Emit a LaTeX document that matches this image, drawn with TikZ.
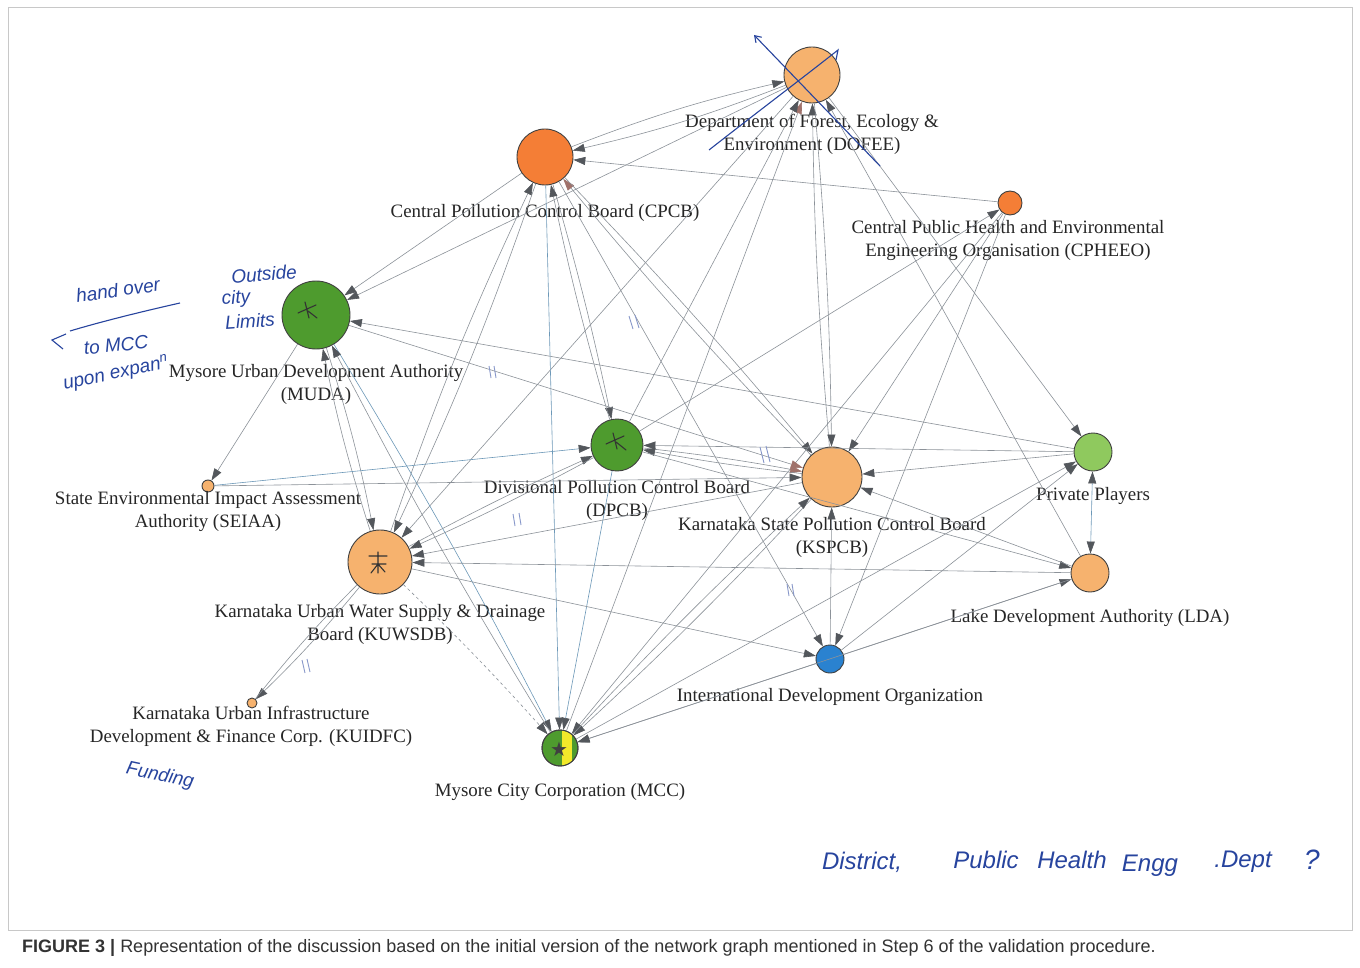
\documentclass[tikz,border=0pt]{standalone}
\usepackage{fontspec}
\setmainfont{Liberation Serif}
\newfontfamily\capfont{Liberation Sans}
\newfontfamily\handfont{Liberation Sans}
\newfontfamily\symfont{DejaVu Sans}
\usetikzlibrary{arrows.meta}
\definecolor{lorange}{HTML}{F6B26E}
\definecolor{dorange}{HTML}{F47E36}
\definecolor{dgreen}{HTML}{4E9B2E}
\definecolor{lgreen}{HTML}{8FC95E}
\definecolor{idblue}{HTML}{2A82D0}
\definecolor{myyellow}{HTML}{F2E92A}
\definecolor{edgegray}{HTML}{8C9299}
\definecolor{edgeblue}{HTML}{6C98B8}
\definecolor{tipgray}{HTML}{53575C}
\definecolor{tipred}{HTML}{A0726B}
\definecolor{ink}{HTML}{27449E}
\definecolor{framegray}{HTML}{C8C8C8}
\begin{document}
\begin{tikzpicture}[x=1pt,y=-1pt,
 agent/.style={circle,draw=black!75,line width=0.9pt,inner sep=0pt},
 lbl/.style={font=\fontsize{18.9}{23}\selectfont,align=center,text=black!85,inner sep=0pt},
 ed/.style={draw=edgegray,line width=0.6pt,-{Triangle[length=12pt,width=8pt,color=tipgray]}},
 edb/.style={ed,draw=edgeblue},
 edr/.style={draw=edgegray,line width=0.6pt,-{Triangle[length=12pt,width=8pt,color=tipred]}},
 edboth/.style={draw=edgeblue,line width=0.6pt,{Triangle[length=12pt,width=8pt,color=tipgray]}-{Triangle[length=12pt,width=8pt,color=tipgray]}},
 hand/.style={font=\handfont\itshape\fontsize{19}{21}\selectfont,text=ink,inner sep=0pt},
 bighand/.style={font=\handfont\itshape\fontsize{24}{26}\selectfont,text=ink,inner sep=0pt},
 hmark/.style={draw=ink!55,line width=0.9pt},
 pencil/.style={draw=black!80,line width=1.1pt,line cap=round}
]
\fill[white] (0,0) rectangle (1360,968);
\useasboundingbox (0,0) rectangle (1360,968);
\draw[framegray,line width=1pt] (8,8) rectangle (1352,930);

% nodes
\node[agent,fill=lorange,minimum size=56pt] (DOFEE) at (812,75) {};
\node[agent,fill=dorange,minimum size=56pt] (CPCB) at (545,157) {};
\node[agent,fill=dorange,minimum size=24pt] (CPHEEO) at (1010,203) {};
\node[agent,fill=dgreen,minimum size=68pt] (MUDA) at (316,315) {};
\node[agent,fill=lorange,minimum size=12pt] (SEIAA) at (208,486) {};
\node[agent,fill=dgreen,minimum size=52pt] (DPCB) at (617,445) {};
\node[agent,fill=lorange,minimum size=60pt] (KSPCB) at (832,477) {};
\node[agent,fill=lgreen,minimum size=38pt] (PP) at (1093,452) {};
\node[agent,fill=lorange,minimum size=38pt] (LDA) at (1090,573) {};
\node[agent,fill=lorange,minimum size=64pt] (KUWSDB) at (380,562) {};
\node[agent,fill=idblue,minimum size=28pt] (IDO) at (830,659) {};
\node[agent,fill=lorange,minimum size=10pt] (KUIDFC) at (252,703) {};
\node[agent,fill=dgreen,minimum size=36pt] (MCC) at (560,748) {};
\begin{scope}
\clip (560,748) circle (17.5pt);
\fill[myyellow] (562,725) rectangle (572,775);
\end{scope}
\draw[black!75,line width=0.9pt] (560,748) circle (18pt);
\node[font=\symfont\fontsize{20}{20}\selectfont,text=black!75,inner sep=0pt] (star) at (559,749) {★};

% pencil marks
\draw[pencil] (298,313) -- (316,305) (305,302) -- (309,318) (308,311) -- (317,318);
\draw[pencil] (606,444) -- (624,436) (613,433) -- (617,449) (616,442) -- (626,450);
\draw[pencil] (369,556) -- (387,556) (372,564) -- (386,564) (378,552) -- (378,573) (378,564) -- (371,573) (378,564) -- (385,572);

% labels
\node[lbl] (lDOFEE) at (812,134.5) {Department of Forest, Ecology \&\\Environment (DOFEE)};
\node[lbl] (lCPCB) at (545,213) {Central Pollution Control Board (CPCB)};
\node[lbl] (lCPHEEO) at (1008,240) {Central Public Health and Environmental\\Engineering Organisation (CPHEEO)};
\node[lbl] (lMUDA) at (316,384) {Mysore Urban Development Authority\\(MUDA)};
\node[lbl] (lSEIAA) at (208,511) {State Environmental Impact Assessment\\Authority (SEIAA)};
\node[lbl] (lDPCB) at (617,500) {Divisional Pollution Control Board\\(DPCB)};
\node[lbl] (lKSPCB) at (832,537) {Karnataka State Pollution Control Board\\(KSPCB)};
\node[lbl] (lPP) at (1093,496) {Private Players};
\node[lbl] (lLDA) at (1090,618) {Lake Development Authority (LDA)};
\node[lbl] (lKUWSDB) at (380,624) {Karnataka Urban Water Supply \& Drainage\\Board (KUWSDB)};
\node[lbl] (lIDO) at (830,697) {International Development Organization};
\node[lbl] (lKUIDFC) at (251,726) {Karnataka Urban Infrastructure\\Development \& Finance Corp. (KUIDFC)};
\node[lbl] (lMCC) at (560,792) {Mysore City Corporation (MCC)};

% edges
\draw[ed] (CPCB) to[bend left=4] (DOFEE);
\draw[ed] (DOFEE) to[bend left=4] (CPCB);
\draw[ed] (DOFEE) -- (MUDA);
\draw[edr] (MCC) -- (DOFEE);
\draw[ed] (DOFEE) -- (KUWSDB);
\draw[ed] (DPCB) -- (DOFEE);
\draw[ed] (KSPCB) to[bend left=2] (DOFEE);
\draw[ed] (DOFEE) to[bend left=2] (KSPCB);
\draw[ed] (LDA) -- (DOFEE);
\draw[ed] (DOFEE) -- (PP);
\draw[ed] (CPHEEO) -- (CPCB);
\draw[ed] (CPCB) -- (MUDA);
\draw[ed] (CPCB) to[bend left=3] (KUWSDB);
\draw[ed] (KUWSDB) to[bend left=3] (CPCB);
\draw[ed] (CPCB) to[bend left=2] (DPCB);
\draw[ed] (DPCB) to[bend left=2] (CPCB);
\draw[edb] (CPCB) -- (MCC);
\draw[edr] (KSPCB) to[bend left=2] (CPCB);
\draw[ed] (CPCB) to[bend left=2] (KSPCB);
\draw[ed] (CPCB) -- (IDO);
\draw[ed] (CPHEEO) -- (KSPCB);
\draw[ed] (CPHEEO) -- (IDO);
\draw[ed] (DPCB) -- (CPHEEO);
\draw[ed] (CPHEEO) -- (MCC);
\draw[ed] (MUDA) -- (SEIAA);
\draw[ed] (MUDA) to[bend left=3] (KUWSDB);
\draw[ed] (KUWSDB) to[bend left=3] (MUDA);
\draw[edb] (MUDA) to[bend left=2] (MCC);
\draw[ed] (MCC) to[bend left=2] (MUDA);
\draw[ed] (PP) -- (MUDA);
\draw[edr] (MUDA) -- (KSPCB);
\draw[edb] (SEIAA) -- (DPCB);
\draw[ed] (SEIAA) -- (KSPCB);
\draw[edr] (DPCB) to[bend left=2] (KSPCB);
\draw[ed] (KSPCB) to[bend left=2] (DPCB);
\draw[ed] (PP) -- (DPCB);
\draw[ed] (KUWSDB) to[bend left=2] (DPCB);
\draw[ed] (DPCB) to[bend left=2] (KUWSDB);
\draw[edb] (DPCB) -- (MCC);
\draw[ed] (DPCB) -- (LDA);
\draw[ed] (KSPCB) -- (KUWSDB);
\draw[ed] (PP) -- (KSPCB);
\draw[ed] (LDA) -- (KSPCB);
\draw[ed] (IDO) -- (KSPCB);
\draw[ed] (KSPCB) to[bend left=2] (MCC);
\draw[ed] (MCC) to[bend left=2] (KSPCB);
\draw[edboth] (PP) -- (LDA);
\draw[ed] (IDO) -- (PP);
\draw[ed] (MCC) -- (PP);
\draw[ed] (LDA) -- (KUWSDB);
\draw[ed] (IDO) -- (LDA);
\draw[ed] (LDA) -- (MCC);
\draw[ed] (KUWSDB) to[bend left=3] (KUIDFC);
\draw[draw=edgegray,line width=0.6pt] (KUWSDB) to[bend right=3] (KUIDFC);
\draw[ed] (KUWSDB) -- (IDO);
\draw[ed,dashed] (KUWSDB) to[bend left=2] (MCC);
\draw[ed] (IDO) -- (MCC);

% handwritten marks on edges
\draw[hmark] (629,316) -- (633,329) (635,315) -- (639,328);
\draw[hmark] (489,366) -- (491,378) (494,366) -- (496,378);
\draw[hmark] (760,447) -- (764,463) (766,446) -- (770,462);
\draw[hmark] (513,514) -- (515,526) (519,513) -- (521,525);
\draw[hmark] (787,584) -- (789,596) (792,584) -- (794,596);
\draw[hmark] (302,660) -- (305,673) (307,659) -- (310,672);
% blue strokes near DOFEE
\draw[ink,line width=1.1pt,-{Straight Barb[length=6pt,width=8pt]}] (880,166) -- (754,35);
\draw[ink,line width=1.1pt] (709,150) .. controls (760,110) and (800,80) .. (838,50) -- (836,60);
% handwritten arrow
\draw[ink,line width=1.1pt] (180,303) .. controls (140,312) and (100,322) .. (70,331);
\draw[ink,line width=1.1pt] (66,334) -- (52,340) -- (63,349);

% handwritten notes
\node[hand,rotate=8] (h1) at (118,290) {hand over};
\node[hand,rotate=6] (h2) at (116,345) {to MCC};
\node[hand,rotate=12] (h3) at (116,374) {upon expan\textsuperscript{n}};
\node[hand,rotate=4] (h4) at (264,274) {Outside};
\node[hand,rotate=4] (h5) at (236,299) {city};
\node[hand,rotate=4] (h6) at (250,321) {Limits};
\node[hand,rotate=-12] (h7) at (160,776) {Funding};
\node[bighand] (h8) at (862,862) {District,};
\node[bighand] (h9) at (986,860) {Public};
\node[bighand] (h10) at (1072,860) {Health};
\node[bighand] (h11) at (1150,866) {Engg};
\node[bighand] (h12) at (1243,862) {.Dept};
\node[font=\handfont\itshape\fontsize{28}{28}\selectfont,text=ink,inner sep=0pt] (h13) at (1312,860) {?};

% caption
\node[anchor=west,inner sep=0pt,font=\capfont\fontsize{18}{20}\selectfont,text=black!80] (cap) at (22,948) {\textbf{FIGURE 3 |} Representation of the discussion based on the initial version of the network graph mentioned in Step 6 of the validation procedure.};
\end{tikzpicture}
\end{document}
